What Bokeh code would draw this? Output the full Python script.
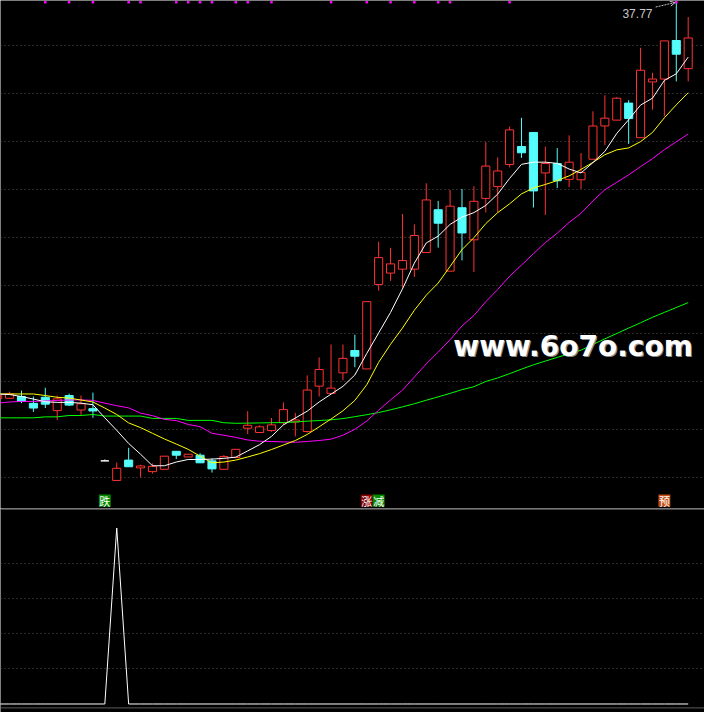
from bokeh.plotting import figure
from bokeh.layouts import column
from bokeh.models import Range1d, FixedTicker, Grid, Label, Arrow, OpenHead, Span, ColumnDataSource
from bokeh.core.properties import value
from bokeh.embed import file_html
from bokeh.resources import INLINE

# ---------------- data ----------------
idx = list(range(-1, 58))

open_ = [17.50, 17.52, 17.61, 17.26, 17.57, 16.89, 17.66, 16.92, 16.99, 14.32,
         13.32, 14.36, 13.96, 13.77, 13.89, 14.81, 14.52, 14.61, 14.32, 13.89,
         14.49, 15.99, 15.77, 15.87, 16.27, 16.31, 15.82, 18.14, 17.77, 18.82,
         19.96, 19.02, 23.34, 23.92, 24.12, 24.12, 24.97, 27.16, 24.02, 27.26,
         25.62, 27.74, 28.34, 29.47, 30.39, 31.11, 29.04, 29.52, 28.71, 28.69,
         29.74, 31.44, 31.74, 32.61, 30.84, 33.69, 33.84, 35.81, 34.37]
high = [17.71, 17.86, 17.91, 17.61, 18.06, 17.66, 17.76, 17.66, 17.81, 14.39,
        14.24, 14.99, 14.12, 14.19, 14.56, 14.81, 14.66, 14.71, 14.44, 14.62,
        14.91, 16.86, 16.14, 16.51, 17.31, 16.77, 18.69, 19.61, 20.27, 20.27,
        20.77, 22.46, 25.52, 25.21, 26.94, 26.41, 28.51, 27.61, 28.17, 28.22,
        28.36, 30.61, 29.84, 31.41, 31.86, 31.11, 30.39, 30.31, 30.96, 30.06,
        32.19, 33.01, 32.91, 32.76, 35.44, 34.16, 35.79, 37.77, 37.01]
low = [17.46, 17.52, 17.27, 16.82, 17.02, 16.41, 17.12, 16.67, 16.52, 14.32,
       13.32, 14.02, 13.47, 13.67, 13.89, 14.41, 14.52, 14.22, 13.72, 13.86,
       14.49, 15.69, 15.77, 15.81, 16.16, 15.57, 15.76, 17.61, 17.77, 18.44,
       19.11, 19.02, 23.02, 23.52, 23.19, 23.72, 24.97, 25.22, 24.02, 24.57,
       23.97, 27.02, 27.01, 29.32, 29.81, 27.27, 26.89, 28.27, 28.32, 28.22,
       29.74, 30.47, 31.74, 30.52, 30.84, 32.27, 31.94, 33.72, 33.72]
close = [17.66, 17.74, 17.36, 17.02, 17.22, 17.49, 17.17, 17.24, 16.87, 14.32,
         13.94, 14.02, 14.06, 14.04, 14.56, 14.61, 14.66, 14.22, 13.91, 14.54,
         14.91, 16.14, 16.06, 16.16, 16.94, 16.41, 17.94, 18.99, 18.04, 19.56,
         19.67, 22.46, 24.71, 24.39, 24.56, 25.84, 27.66, 26.47, 27.34, 25.97,
         27.59, 29.39, 29.14, 31.24, 30.07, 28.12, 29.52, 28.64, 29.59, 29.06,
         31.44, 31.84, 32.86, 31.82, 34.29, 33.84, 35.79, 35.11, 35.94]

ma5 = [17.74, 17.71, 17.61, 17.48, 17.34, 17.31, 17.31, 17.27, 17.19, 16.52,
       15.88, 15.21, 14.66, 14.07, 14.07, 14.26, 14.39, 14.39, 14.41, 14.45,
       14.51, 14.83, 15.15, 15.57, 16.16, 16.51, 16.86, 17.33, 17.73, 18.13,
       18.71, 19.81, 20.86, 21.91, 23.11, 24.43, 25.46, 25.81, 26.41, 26.78,
       27.01, 27.38, 27.96, 28.76, 29.48, 29.59, 29.59, 29.53, 29.24, 29.04,
       29.57, 30.14, 31.06, 31.76, 32.51, 32.86, 33.77, 34.11, 34.96]
ma10 = [17.74, 17.74, 17.74, 17.74, 17.66, 17.57, 17.53, 17.43, 17.33, 17.02,
        16.69, 16.26, 16.02, 15.73, 15.44, 15.18, 14.91, 14.56, 14.22, 14.26,
        14.36, 14.52, 14.69, 14.90, 15.13, 15.36, 15.67, 16.06, 16.46, 16.88,
        17.41, 18.21, 19.36, 20.28, 21.11, 22.02, 22.79, 23.41, 24.26, 25.12,
        25.73, 26.45, 27.01, 27.46, 27.97, 28.27, 28.45, 28.65, 28.89, 29.22,
        29.58, 29.97, 30.22, 30.32, 30.64, 31.11, 31.86, 32.52, 33.14]
ma20 = [17.27, 17.33, 17.36, 17.36, 17.38, 17.41, 17.43, 17.44, 17.41, 17.27,
        17.14, 17.03, 16.76, 16.63, 16.44, 16.38, 16.18, 16.07, 15.73, 15.63,
        15.52, 15.39, 15.32, 15.31, 15.29, 15.27, 15.31, 15.36, 15.43, 15.63,
        15.93, 16.36, 16.91, 17.44, 17.93, 18.61, 19.28, 19.88, 20.51, 21.22,
        21.75, 22.46, 23.08, 23.76, 24.33, 24.91, 25.48, 25.96, 26.51, 26.98,
        27.61, 28.18, 28.56, 28.94, 29.36, 29.77, 30.23, 30.63, 31.03]
ma60 = [16.52, 16.52, 16.52, 16.52, 16.57, 16.57, 16.64, 16.64, 16.69, 16.61,
        16.61, 16.61, 16.61, 16.49, 16.49, 16.49, 16.39, 16.39, 16.39, 16.27,
        16.24, 16.25, 16.26, 16.27, 16.28, 16.31, 16.35, 16.38, 16.42, 16.48,
        16.58, 16.68, 16.79, 16.93, 17.08, 17.24, 17.42, 17.59, 17.77, 17.96,
        18.11, 18.38, 18.56, 18.78, 19.01, 19.23, 19.42, 19.61, 19.79, 19.98,
        20.27, 20.56, 20.83, 21.11, 21.38, 21.66, 21.91, 22.16, 22.41]

# lower indicator
ind = [0, 0, 0, 0, 0, 0, 0, 0, 0, 0,
       100, 0, 0, 0, 0, 0, 0, 0, 0, 0,
       0, 0, 0, 0, 0, 0, 0, 0, 0, 0,
       0, 0, 0, 0, 0, 0, 0, 0, 0, 0,
       0, 0, 0, 0, 0, 0, 0, 0, 0, 0,
       0, 0, 0, 0, 0, 0, 0, 0, 0]

# marker dots at top of the price panel
dot_idx = [3, 5, 7, 10, 11, 14, 15, 16, 17, 19, 20, 22, 27, 30, 32, 34, 36, 37, 42, 56]

# signal labels
sig_text = ["跌", "涨", "减", "预"]
sig_idx = [8, 30, 31, 55]
sig_bg = ["#008a00", "#860000", "#008a00", "#c24e14"]

price_grid = [35.54, 33.09, 30.64, 28.19, 25.74, 23.29, 20.84, 18.39, 15.94, 13.49]
ind_grid = [20, 40, 60, 80]

# ---------------- figure setup ----------------
W = 704
H_TOP = 508
H_BOT = 204
UP = "#ff3232"
DN = "#54fcfc"

x_range = Range1d(-0.764, 58.37)

common = dict(x_axis_type=None, y_axis_type=None, output_backend="svg",
              toolbar_location=None, min_border=0, background_fill_color="black",
              border_fill_color="black", outline_line_color=None)

p = figure(width=W, height=H_TOP, x_range=x_range, y_range=Range1d(11.885, 37.855), **common)
p.add_layout(Grid(dimension=1, ticker=FixedTicker(ticks=price_grid),
                  grid_line_color="#555555", grid_line_dash="1 3", grid_line_width=1))

colors = [UP if c > o else (DN if c < o else "#ffffff") for o, c in zip(open_, close)]
fills = ["black" if c > o else col for o, c, col in zip(open_, close, colors)]
src = ColumnDataSource(dict(x=idx, h=high, l=low,
                            top=[max(o, c) for o, c in zip(open_, close)],
                            bot=[min(o, c) for o, c in zip(open_, close)],
                            color=colors, fill=fills))
p.segment(x0="x", y0="h", x1="x", y1="l", line_color="color", line_width=1, source=src)
p.vbar(x="x", width=0.68, top="top", bottom="bot", fill_color="fill",
       line_color="color", line_width=1, source=src)

p.line(idx, ma60, line_color="#00ff00", line_width=1)
p.line(idx, ma20, line_color="#ff00ff", line_width=1)
p.line(idx, ma10, line_color="#ffff00", line_width=1)
p.line(idx, ma5, line_color="#ffffff", line_width=1)

p.scatter(dot_idx, [37.76] * len(dot_idx), marker="square", size=2.5,
          fill_color="#ff00ff", line_color=None)

p.rect(x=sig_idx, y=[12.29] * len(sig_idx), width=1.0, height=0.62,
       fill_color=sig_bg, line_color=None)
p.text(x=sig_idx, y=[12.27] * len(sig_idx), text=sig_text,
       text_font=value("Noto Sans CJK SC"), text_font_size="11px",
       text_color="white", text_align="center", text_baseline="middle")

# highest price label with arrow
hi_val = max(high)
hi_idx = idx[high.index(hi_val)]
p.add_layout(Label(x=hi_idx - 2.0, y=hi_val - 0.58, text=f"{hi_val:.2f}",
                   text_align="right", text_baseline="alphabetic",
                   text_color="#c8c8c8", text_font="Liberation Sans", text_font_size="12px"))
p.add_layout(Arrow(end=OpenHead(size=5, line_color="#c8c8c8", line_width=1),
                   x_start=hi_idx - 1.73, y_start=hi_val - 0.25,
                   x_end=hi_idx - 0.1, y_end=hi_val - 0.02,
                   line_color="#c8c8c8", line_width=1, line_dash="2 1"))

# watermark
wm = "www.6o7o.com"
p.add_layout(Label(x=37.27, y=20.155, text=wm, x_offset=1.2, y_offset=-1.2,
                   text_color="#8a8a8a", text_font="DejaVu Sans", text_font_style="bold",
                   text_font_size="28px", text_baseline="alphabetic"))
p.add_layout(Label(x=37.27, y=20.155, text=wm,
                   text_color="#ffffff", text_font="DejaVu Sans", text_font_style="bold",
                   text_font_size="28px", text_baseline="alphabetic"))

# ---------------- lower panel ----------------
q = figure(width=W, height=H_BOT, x_range=x_range, y_range=Range1d(-4.83, 111.06), **common)
q.add_layout(Grid(dimension=1, ticker=FixedTicker(ticks=ind_grid),
                  grid_line_color="#555555", grid_line_dash="1 3", grid_line_width=1))
q.add_layout(Span(location=110.6, dimension="width", line_color="#484848", line_width=1.2))
q.add_layout(Span(location=-2.22, dimension="width", line_color="#484848", line_width=1.2))
q.line(idx, ind, line_color="#ffffff", line_width=1)

layout = column(p, q, spacing=0)
open("out.html", "w").write(file_html(layout, INLINE))
